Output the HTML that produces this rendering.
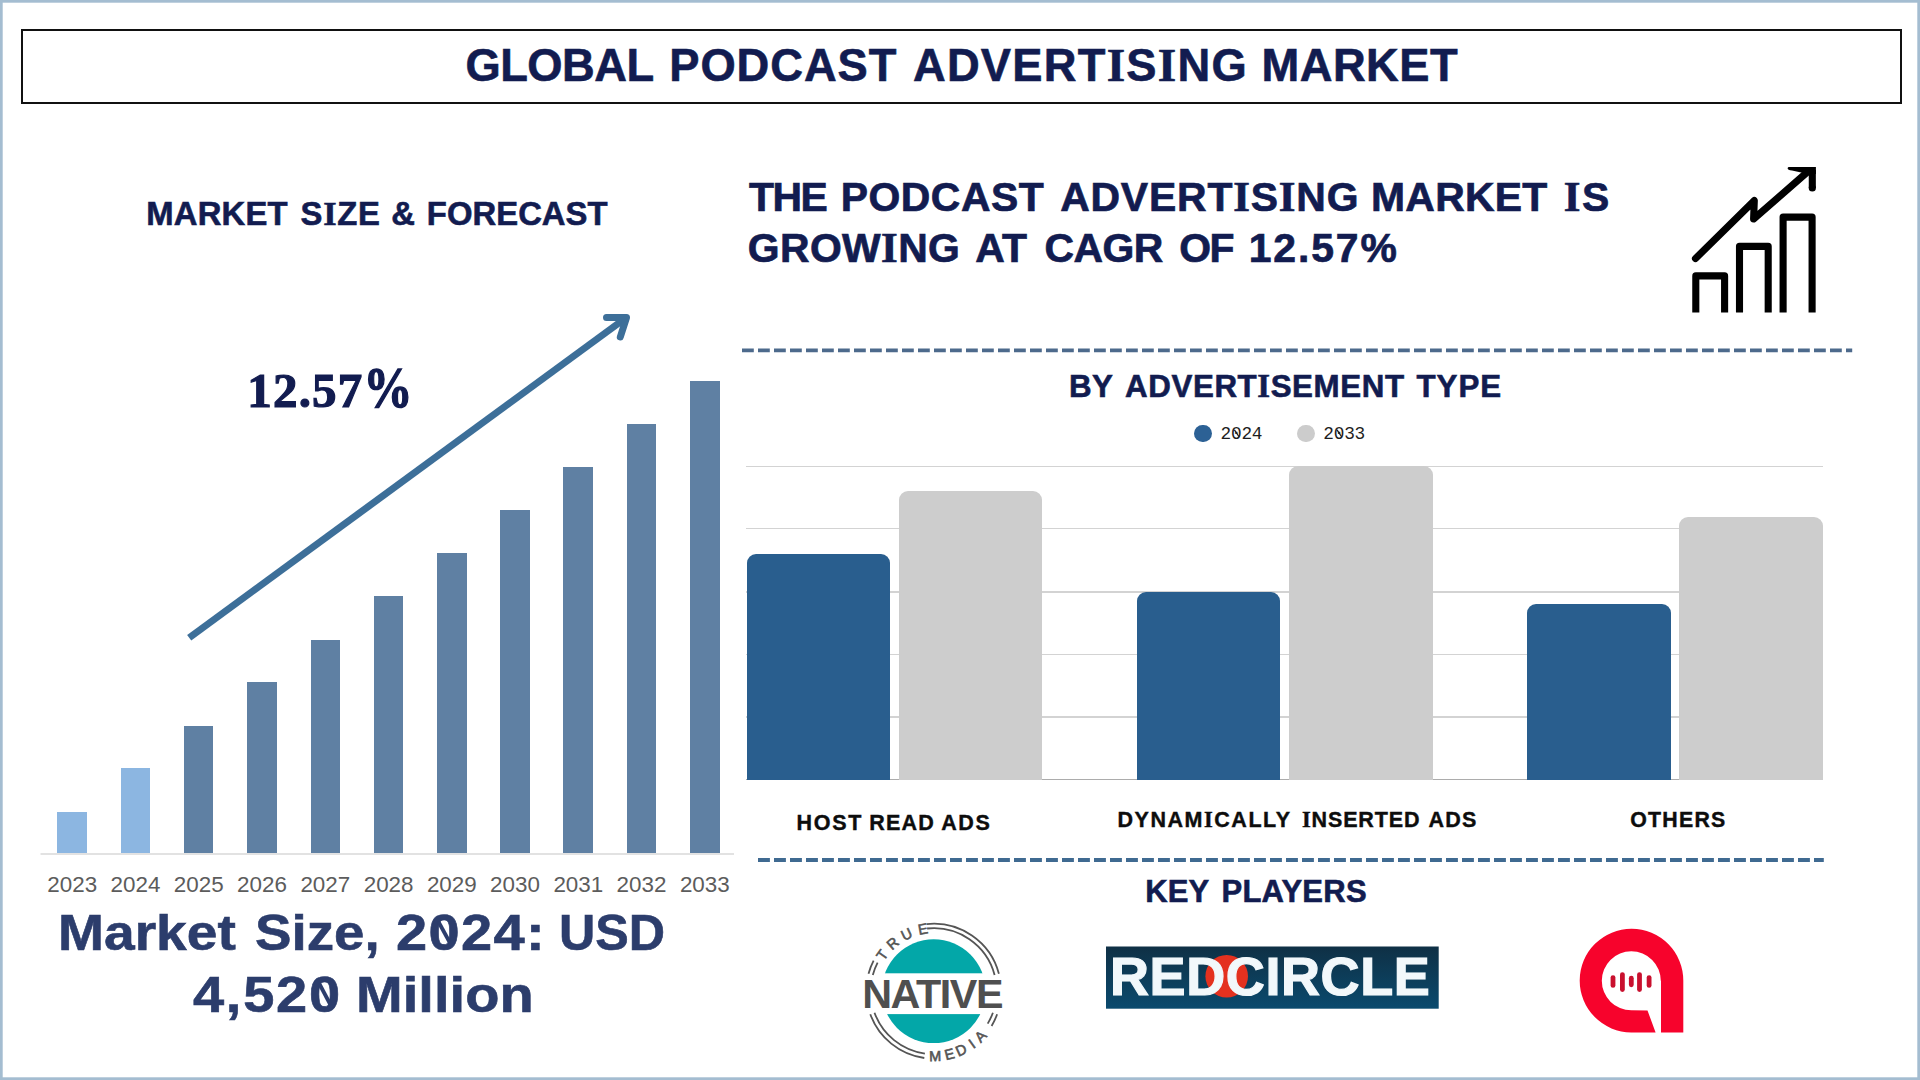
<!DOCTYPE html>
<html><head><meta charset="utf-8">
<style>
*{margin:0;padding:0;box-sizing:border-box}
html,body{width:1920px;height:1080px;overflow:hidden;background:#fff}
body{position:relative;font-family:"Liberation Sans",sans-serif}
.frame{position:absolute;left:0;top:0;width:1920px;height:1080px;border:3px solid #a6bfd3}
.t{position:absolute;white-space:nowrap;line-height:1;font-weight:bold}
.c{transform:translateX(-50%)}
.navy{color:#121c50}
.bar{position:absolute}
.lb{background:#8cb6e1}
.db{background:#5f80a3}
.yr{position:absolute;font-size:22.4px;line-height:1;color:#5c5c5c;font-weight:normal;transform:translateX(-50%)}
.grid{position:absolute;left:746px;width:1077.3px;height:1.5px;background:#d3d3d3}
.rb{position:absolute;border-radius:9px 9px 0 0}
.blue{background:#295e8e}
.gray{background:#cdcdcd}
.si{font-family:"Liberation Serif",serif;font-size:1.047em;line-height:0}
</style></head><body>
<svg style="position:absolute;left:0;top:0" width="1920" height="1080"><rect x="0" y="0" width="1920" height="1080" fill="none" stroke="#a4bdd1" stroke-width="5.4"/></svg>
<!-- title box -->
<div style="position:absolute;left:21px;top:29px;width:1881px;height:75px;border:2px solid #111"></div>
<!-- TITLE -->
<div class="t" style="left:465.44px;top:43.0px;font-size:45.3px;letter-spacing:-0.518px;color:#121c50;-webkit-text-stroke:0.6px #121c50">GLOBAL</div>
<div class="t" style="left:669.27px;top:43.0px;font-size:45.3px;letter-spacing:0.940px;color:#121c50;-webkit-text-stroke:0.6px #121c50">PODCAST</div>
<div class="t" style="left:912.97px;top:43.0px;font-size:45.3px;letter-spacing:1.241px;color:#121c50;-webkit-text-stroke:0.6px #121c50">ADVERT<span class="si">I</span>S<span class="si">I</span>NG</div>
<div class="t" style="left:1261.47px;top:43.0px;font-size:45.3px;letter-spacing:0.491px;color:#121c50;-webkit-text-stroke:0.6px #121c50">MARKET</div>

<!-- left section -->
<!-- MSF -->
<div class="t" style="left:146.21px;top:197.7px;font-size:32.8px;letter-spacing:0.210px;color:#121c50;-webkit-text-stroke:0.6px #121c50">MARKET</div>
<div class="t" style="left:300.61px;top:197.7px;font-size:32.8px;letter-spacing:0.741px;color:#121c50;-webkit-text-stroke:0.6px #121c50">S<span class="si">I</span>ZE</div>
<div class="t" style="left:391.36px;top:197.7px;font-size:32.8px;letter-spacing:0.000px;color:#121c50;-webkit-text-stroke:0.6px #121c50">&amp;</div>
<div class="t" style="left:426.86px;top:197.7px;font-size:32.8px;letter-spacing:0.042px;color:#121c50;-webkit-text-stroke:0.6px #121c50">FORECAST</div>
<div class="t c navy" style="left:330.5px;top:366px;font-size:49px;letter-spacing:1.2px;font-family:'Liberation Serif',serif;-webkit-text-stroke:1.2px #121c50">12.57<span style="display:inline-block;transform:scaleY(1.17);transform-origin:50% 83.7%">%</span></div>

<svg style="position:absolute;left:0;top:0" width="1920" height="1080">
  <line x1="40.5" y1="854" x2="734" y2="854" stroke="#d9d9d9" stroke-width="1.6"/>
  <line x1="189.2" y1="637.7" x2="623" y2="320" stroke="#3d6f99" stroke-width="7"/>
  <polyline points="606.5,317.6 626.5,317.6 620.3,337" fill="none" stroke="#3d6f99" stroke-width="7" stroke-linecap="round" stroke-linejoin="round"/>
</svg>

<div class="bar lb" style="left:57.4px;top:812px;width:29.6px;height:41px"></div>
<div class="bar lb" style="left:120.6px;top:768.3px;width:29.6px;height:84.7px"></div>
<div class="bar db" style="left:183.8px;top:725.9px;width:29.6px;height:127.1px"></div>
<div class="bar db" style="left:247.4px;top:682.2px;width:29.6px;height:170.8px"></div>
<div class="bar db" style="left:310.7px;top:640px;width:29.6px;height:213px"></div>
<div class="bar db" style="left:373.8px;top:596.3px;width:29.6px;height:256.7px"></div>
<div class="bar db" style="left:437px;top:553px;width:29.6px;height:300px"></div>
<div class="bar db" style="left:500.2px;top:510.4px;width:29.6px;height:342.6px"></div>
<div class="bar db" style="left:563.4px;top:467px;width:29.6px;height:386px"></div>
<div class="bar db" style="left:626.7px;top:424.4px;width:29.6px;height:428.6px"></div>
<div class="bar db" style="left:690px;top:381.1px;width:29.6px;height:471.9px"></div>

<div class="yr" style="left:72.2px;top:874.4px">2023</div>
<div class="yr" style="left:135.5px;top:874.4px">2024</div>
<div class="yr" style="left:198.7px;top:874.4px">2025</div>
<div class="yr" style="left:262px;top:874.4px">2026</div>
<div class="yr" style="left:325.3px;top:874.4px">2027</div>
<div class="yr" style="left:388.6px;top:874.4px">2028</div>
<div class="yr" style="left:451.8px;top:874.4px">2029</div>
<div class="yr" style="left:515px;top:874.4px">2030</div>
<div class="yr" style="left:578.3px;top:874.4px">2031</div>
<div class="yr" style="left:641.5px;top:874.4px">2032</div>
<div class="yr" style="left:704.8px;top:874.4px">2033</div>

<!-- MS1 -->
<div class="t" style="left:58.31px;top:907.7px;font-size:50px;letter-spacing:0.000px;color:#2c3d6c;-webkit-text-stroke:0.6px #2c3d6c;transform:scaleX(1.1035031055900624);transform-origin:0 0">Market</div>
<div class="t" style="left:255.42px;top:907.7px;font-size:50px;letter-spacing:0.000px;color:#2c3d6c;-webkit-text-stroke:0.6px #2c3d6c;transform:scaleX(1.0938546186535452);transform-origin:0 0">Size,</div>
<div class="t" style="left:396.36px;top:907.7px;font-size:50px;letter-spacing:1.228px;color:#2c3d6c;-webkit-text-stroke:0.6px #2c3d6c;transform:scaleX(1.12);transform-origin:0 0">2024:</div>
<div class="t" style="left:558.98px;top:907.7px;font-size:50px;letter-spacing:0.000px;color:#2c3d6c;-webkit-text-stroke:0.6px #2c3d6c;transform:scaleX(1.0053365735115423);transform-origin:0 0">USD</div>
<!-- MS2 -->
<div class="t" style="left:192.75px;top:969.6px;font-size:50px;letter-spacing:1.542px;color:#2c3d6c;-webkit-text-stroke:0.6px #2c3d6c;transform:scaleX(1.12);transform-origin:0 0">4,520</div>
<div class="t" style="left:356.25px;top:969.6px;font-size:50px;letter-spacing:0.063px;color:#2c3d6c;-webkit-text-stroke:0.6px #2c3d6c;transform:scaleX(1.12);transform-origin:0 0">Million</div>

<!-- right section -->
<!-- POD1 -->
<div class="t" style="left:749.09px;top:177.1px;font-size:40.9px;letter-spacing:-1.522px;color:#121c50;-webkit-text-stroke:0.7px #121c50">THE</div>
<div class="t" style="left:840.71px;top:177.1px;font-size:40.9px;letter-spacing:0.518px;color:#121c50;-webkit-text-stroke:0.7px #121c50">PODCAST</div>
<div class="t" style="left:1060.13px;top:177.1px;font-size:40.9px;letter-spacing:0.824px;color:#121c50;-webkit-text-stroke:0.7px #121c50">ADVERT<span class="si">I</span>S<span class="si">I</span>NG</div>
<div class="t" style="left:1371.01px;top:177.1px;font-size:40.9px;letter-spacing:0.286px;color:#121c50;-webkit-text-stroke:0.7px #121c50">MARKET</div>
<div class="t" style="left:1563.81px;top:177.1px;font-size:40.9px;letter-spacing:1.496px;color:#121c50;-webkit-text-stroke:0.7px #121c50"><span class="si">I</span>S</div>
<!-- POD2 -->
<div class="t" style="left:747.87px;top:228.0px;font-size:40.9px;letter-spacing:0.372px;color:#121c50;-webkit-text-stroke:0.7px #121c50">GROW<span class="si">I</span>NG</div>
<div class="t" style="left:975.33px;top:228.0px;font-size:40.9px;letter-spacing:0.138px;color:#121c50;-webkit-text-stroke:0.7px #121c50">AT</div>
<div class="t" style="left:1044.57px;top:228.0px;font-size:40.9px;letter-spacing:-0.569px;color:#121c50;-webkit-text-stroke:0.7px #121c50">CAGR</div>
<div class="t" style="left:1179.17px;top:228.0px;font-size:40.9px;letter-spacing:-1.521px;color:#121c50;-webkit-text-stroke:0.7px #121c50">OF</div>
<div class="t" style="left:1248.67px;top:228.0px;font-size:40.9px;letter-spacing:1.908px;color:#121c50;-webkit-text-stroke:0.7px #121c50">12.57%</div>

<svg style="position:absolute;left:0;top:0" width="1920" height="1080">
  <g fill="none" stroke="#000" stroke-width="7.1" stroke-linejoin="round">
    <path d="M1695.8,312.5 V275.9 H1724.6 V312.5"/>
    <path d="M1739.5,312.5 V246.4 H1768.2 V312.5"/>
    <path d="M1783.1,312.5 V217.1 H1812.1 V312.5"/>
    <path d="M1695.5,258.5 L1754.3,200.6 L1753.6,219 L1808,171.5" stroke-linecap="round"/>
    <path d="M1812.3,170 V188"/>
  </g>
  <circle cx="1812.3" cy="188" r="3.6" fill="#000"/>
  <path d="M1788.5,167 H1815.9 V174 L1808,174 L1792,170.6 Q1787.5,170 1787.6,168 Z" fill="#000"/>
  <line x1="742" y1="350.3" x2="1852.2" y2="350.3" stroke="#4d6a8c" stroke-width="3.8" stroke-dasharray="11.8 4.2"/>
  <line x1="758" y1="860" x2="1823.8" y2="860" stroke="#3f6a91" stroke-width="3.9" stroke-dasharray="11.9 4.1"/>
</svg>

<!-- BYAD -->
<div class="t" style="left:1069.01px;top:371.0px;font-size:31.3px;letter-spacing:0.417px;color:#121c50;-webkit-text-stroke:0.6px #121c50">BY</div>
<div class="t" style="left:1125.12px;top:371.0px;font-size:31.3px;letter-spacing:0.588px;color:#121c50;-webkit-text-stroke:0.6px #121c50">ADVERT<span class="si">I</span>SEMENT</div>
<div class="t" style="left:1416.55px;top:371.0px;font-size:31.3px;letter-spacing:0.941px;color:#121c50;-webkit-text-stroke:0.6px #121c50">TYPE</div>
<div style="position:absolute;left:1194.2px;top:424.6px;width:17.6px;height:17.6px;border-radius:50%;background:#2c6195"></div>
<div style="position:absolute;left:1297px;top:424.6px;width:17.6px;height:17.6px;border-radius:50%;background:#cccccc"></div>
<div class="t" style="left:1220.6px;top:426.3px;font-size:17.8px;letter-spacing:-0.25px;font-weight:normal;font-family:'Liberation Mono',monospace;color:#1e1e1e">2024</div>
<div class="t" style="left:1323.3px;top:426.3px;font-size:17.8px;letter-spacing:-0.25px;font-weight:normal;font-family:'Liberation Mono',monospace;color:#1e1e1e">2033</div>

<div class="grid" style="top:465.6px"></div>
<div class="grid" style="top:527.8px"></div>
<div class="grid" style="top:591px"></div>
<div class="grid" style="top:653.8px"></div>
<div class="grid" style="top:716.4px"></div>
<div class="grid" style="top:778.8px;height:1.2px;background:#acacac"></div>

<div class="rb blue" style="left:746.9px;top:553.9px;width:143.2px;height:226px"></div>
<div class="rb gray" style="left:898.9px;top:490.8px;width:143.3px;height:289.1px"></div>
<div class="rb blue" style="left:1136.9px;top:591.7px;width:143.6px;height:188.2px"></div>
<div class="rb gray" style="left:1288.9px;top:465.6px;width:143.9px;height:314.3px"></div>
<div class="rb blue" style="left:1526.9px;top:604.3px;width:143.9px;height:175.6px"></div>
<div class="rb gray" style="left:1679.3px;top:516.5px;width:143.9px;height:263.4px"></div>

<!-- HOST -->
<div class="t" style="left:796.56px;top:813.0px;font-size:21.5px;letter-spacing:1.715px;color:#0d0d0d;-webkit-text-stroke:0.4px #0d0d0d">HOST</div>
<div class="t" style="left:869.26px;top:813.0px;font-size:21.5px;letter-spacing:1.174px;color:#0d0d0d;-webkit-text-stroke:0.4px #0d0d0d">READ</div>
<div class="t" style="left:941.26px;top:813.0px;font-size:21.5px;letter-spacing:1.541px;color:#0d0d0d;-webkit-text-stroke:0.4px #0d0d0d">ADS</div>
<!-- DYN -->
<div class="t" style="left:1117.51px;top:809.7px;font-size:21.5px;letter-spacing:1.528px;color:#0d0d0d;-webkit-text-stroke:0.4px #0d0d0d">DYNAM<span class="si">I</span>CALLY</div>
<div class="t" style="left:1301.94px;top:809.7px;font-size:21.5px;letter-spacing:0.860px;color:#0d0d0d;-webkit-text-stroke:0.4px #0d0d0d"><span class="si">I</span>NSERTED</div>
<div class="t" style="left:1428.41px;top:809.7px;font-size:21.5px;letter-spacing:1.216px;color:#0d0d0d;-webkit-text-stroke:0.4px #0d0d0d">ADS</div>
<!-- OTH -->
<div class="t" style="left:1630.33px;top:809.7px;font-size:21.3px;letter-spacing:1.230px;color:#0d0d0d;-webkit-text-stroke:0.4px #0d0d0d">OTHERS</div>

<!-- KEY -->
<div class="t" style="left:1145.13px;top:875.9px;font-size:31px;letter-spacing:0.116px;color:#121c50;-webkit-text-stroke:0.6px #121c50">KEY</div>
<div class="t" style="left:1221.43px;top:875.9px;font-size:31px;letter-spacing:0.278px;color:#121c50;-webkit-text-stroke:0.6px #121c50">PLAYERS</div>


<!-- logos -->
<svg style="position:absolute;left:0;top:0" width="1920" height="1080">
<g font-family="Liberation Sans, sans-serif">
<circle cx="933.7" cy="991.2" r="51.9" fill="#03a7a8"/>
<rect x="870" y="973.3" width="130" height="40.8" fill="#fff"/>
<path d="M927.1,928.5 A63,63 0 0 1 994.6,974.9 M872.8,974.9 A63,63 0 0 1 877.6,962.6 M924.9,1053.6 A63,63 0 0 1 874.5,1012.7 M992.9,1012.7 A63,63 0 0 1 987.7,1023.6 M926.6,924.1 A67.5,67.5 0 0 1 998.9,973.7 M868.5,973.7 A67.5,67.5 0 0 1 873.6,960.6 M924.3,1058.0 A67.5,67.5 0 0 1 870.3,1014.3 M997.1,1014.3 A67.5,67.5 0 0 1 991.6,1026.0" fill="none" stroke="#555" stroke-width="1.8"/>
<text font-size="14.5" fill="#555" stroke="#555" stroke-width="0.6" x="0" y="0" transform="translate(882.1,955.1) rotate(-55.0)" text-anchor="middle" dy="0.344em">T</text>
<text font-size="14.5" fill="#555" stroke="#555" stroke-width="0.6" x="0" y="0" transform="translate(892.6,943.4) rotate(-40.7)" text-anchor="middle" dy="0.344em">R</text>
<text font-size="14.5" fill="#555" stroke="#555" stroke-width="0.6" x="0" y="0" transform="translate(906.7,934.3) rotate(-25.4)" text-anchor="middle" dy="0.344em">U</text>
<text font-size="14.5" fill="#555" stroke="#555" stroke-width="0.6" x="0" y="0" transform="translate(922.9,929.1) rotate(-9.9)" text-anchor="middle" dy="0.344em">E</text>
<text font-size="14.5" fill="#555" stroke="#555" stroke-width="0.6" x="0" y="0" transform="translate(935.2,1056.2) rotate(-1.3)" text-anchor="middle" dy="0.344em">M</text>
<text font-size="14.5" fill="#555" stroke="#555" stroke-width="0.6" x="0" y="0" transform="translate(949.4,1054.3) rotate(-14.0)" text-anchor="middle" dy="0.344em">E</text>
<text font-size="14.5" fill="#555" stroke="#555" stroke-width="0.6" x="0" y="0" transform="translate(961.2,1050.1) rotate(-25.0)" text-anchor="middle" dy="0.344em">D</text>
<text font-size="14.5" fill="#555" stroke="#555" stroke-width="0.6" x="0" y="0" transform="translate(971.9,1043.8) rotate(-36.0)" text-anchor="middle" dy="0.344em">I</text>
<text font-size="14.5" fill="#555" stroke="#555" stroke-width="0.6" x="0" y="0" transform="translate(980.6,1036.2) rotate(-46.2)" text-anchor="middle" dy="0.344em">A</text>
<text x="862.2" y="1008" font-size="41.3" font-weight="bold" fill="#4f4f4f" letter-spacing="-1.4">NATIVE</text>
</g>
<defs><linearGradient id="rcg" x1="0" y1="0" x2="0" y2="1"><stop offset="0" stop-color="#0f3045"/><stop offset="1" stop-color="#0a4a6e"/></linearGradient></defs>
<rect x="1106" y="946.5" width="332.7" height="62.2" fill="url(#rcg)"/>
<circle cx="1226.7" cy="976.2" r="21.3" fill="#e4311f"/>
<text x="1110" y="995" font-family="Liberation Sans, sans-serif" font-size="54" font-weight="bold" fill="#f2f8fb" stroke="#f2f8fb" stroke-width="1.2" letter-spacing="0.6">REDCIRCLE</text>
<path fill="#f7032c" fill-rule="evenodd" d="M1683.3,980.8 L1683.3,1032.4 L1631.3,1032.4 A51.8,51.8 0 1 1 1683.3,980.8 Z M1661,980.8 L1661,1032.4 L1655.6,1032.4 L1647.5,1010.5 L1631.3,1010.3 A29.5,29.5 0 1 1 1660.8,980.8 Z"/>
<g stroke="#c9102e" stroke-width="4.8" stroke-linecap="round">
<line x1="1613" y1="977.6" x2="1613" y2="985.4"/>
<line x1="1622.4" y1="974.6" x2="1622.4" y2="989.6"/>
<line x1="1631.3" y1="978.2" x2="1631.3" y2="984.8"/>
<line x1="1639.5" y1="974.6" x2="1639.5" y2="989.6"/>
<line x1="1649.1" y1="977.6" x2="1649.1" y2="985.4"/>
</g>
</svg>
<svg style="position:absolute;left:0;top:0" width="1920" height="1080">
<g stroke="#2c3d6c" stroke-width="3.8" stroke-linecap="butt"><line x1="438.3" y1="921.5" x2="449.8" y2="942.5"/><line x1="319.2" y1="983.5" x2="330.3" y2="1004.5"/></g>
<g stroke="#1e1e1e" stroke-width="1.3"><line x1="1234.4" y1="429.8" x2="1239.2" y2="437"/><line x1="1337" y1="429.8" x2="1341.8" y2="437"/></g>
</svg>
</body></html>
